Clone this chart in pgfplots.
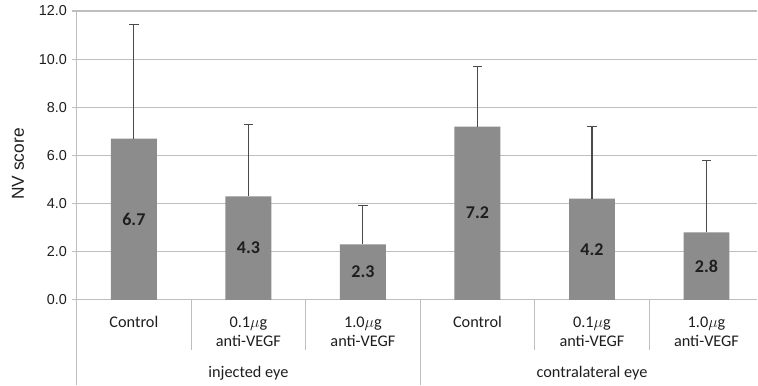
\documentclass[border=0pt]{standalone}
\usepackage{fontspec}
\setmainfont{Carlito}
\newfontfamily\arialf{Liberation Sans}
\usepackage{pgfplots}
\pgfplotsset{compat=1.18}
\definecolor{barg}{HTML}{8C8C8C}
\definecolor{gridg}{HTML}{BEBEBE}
\definecolor{errg}{HTML}{4A4A4A}
\definecolor{txt}{HTML}{1E1E1E}
\begin{document}
\begin{tikzpicture}
\begin{axis}[
  scale only axis, width=511pt, height=216.75pt,
  xmin=-0.5, xmax=5.445, ymin=0, ymax=12,
  ytick={0,2,...,12}, xtick=\empty,
  axis x line*=bottom, axis y line*=left,
  axis line style={gridg, line width=0.8pt, -},
  ymajorgrids, grid style={gridg, line width=0.8pt},
  tick style={gridg, line width=0.8pt}, major tick length=3.75pt, tick align=outside,
  y tick label style={font=\arialf\fontsize{10.8}{12}\selectfont, text=txt,
    /pgf/number format/fixed, /pgf/number format/fixed zerofill,
    /pgf/number format/precision=1, /pgf/number format/assume math mode=true},
  ylabel={NV score},
  every axis y label/.style={at={(rel axis cs:0,0.5)}, xshift=-44pt, yshift=-6.4pt,
    rotate=90, anchor=center, font=\arialf\fontsize{13}{15}\selectfont, text=txt},
  ybar, bar width=34.5pt,
  clip=false,
]
\addplot[fill=barg, draw=none,
  nodes near coords, point meta=y,
  visualization depends on={rawy \as \rawy},
  nodes near coords style={anchor=center, font=\bfseries\fontsize{13.5}{15}\selectfont, text=txt,
    /pgf/number format/fixed, /pgf/number format/fixed zerofill,
    /pgf/number format/precision=1, /pgf/number format/assume math mode=true,
    shift={(axis direction cs:0,-\rawy/2)}},
  error bars/.cd, y dir=plus, y explicit,
  error bar style={errg, line width=0.8pt},
  error mark options={errg, rotate=90, mark size=3.5pt, line width=0.8pt}]
coordinates {
  (0,6.7) +- (0,4.75)
  (1,4.3) +- (0,3.0)
  (2,2.3) +- (0,1.6)
  (3,7.2) +- (0,2.5)
  (4,4.2) +- (0,3.0)
  (5,2.8) +- (0,3.0)
};
% separators
\draw[gridg, line width=0.8pt] (axis cs:-0.5,0) -- ++(0pt,-63.75pt);
\draw[gridg, line width=0.8pt] (axis cs:2.5,0) -- ++(0pt,-63.75pt);
\draw[gridg, line width=0.8pt] (axis cs:0.5,0) -- ++(0pt,-37.5pt);
\draw[gridg, line width=0.8pt] (axis cs:1.5,0) -- ++(0pt,-37.5pt);
\draw[gridg, line width=0.8pt] (axis cs:3.5,0) -- ++(0pt,-37.5pt);
\draw[gridg, line width=0.8pt] (axis cs:4.5,0) -- ++(0pt,-37.5pt);
% bounding helpers
\path (rel axis cs:0,0) ++(-57.5pt,0pt) coordinate (bbL);
\path (rel axis cs:0,1) ++(0pt,8.25pt) coordinate (bbT);
% category labels
\begin{scope}[every node/.style={font=\fontsize{12.2}{14}\selectfont, text=txt, anchor=base, inner sep=0pt}]
\node at ([yshift=-21pt]axis cs:0,0) {Control};
\node at ([yshift=-21pt]axis cs:1,0) {0.1$\mu$g};
\node at ([yshift=-35.25pt]axis cs:1,0) {anti-VEGF};
\node at ([yshift=-21pt]axis cs:2,0) {1.0$\mu$g};
\node at ([yshift=-35.25pt]axis cs:2,0) {anti-VEGF};
\node at ([yshift=-21pt]axis cs:3,0) {Control};
\node at ([yshift=-21pt]axis cs:4,0) {0.1$\mu$g};
\node at ([yshift=-35.25pt]axis cs:4,0) {anti-VEGF};
\node at ([yshift=-21pt]axis cs:5,0) {1.0$\mu$g};
\node at ([yshift=-35.25pt]axis cs:5,0) {anti-VEGF};
\node[font=\fontsize{12.2}{14}\selectfont] at ([yshift=-58.5pt]axis cs:1,0) {injected eye};
\node[font=\fontsize{12.2}{14}\selectfont] at ([yshift=-58.5pt]axis cs:4,0) {contralateral eye};
\end{scope}
\end{axis}
\path (bbL) -- (bbT);
\end{tikzpicture}
\end{document}
